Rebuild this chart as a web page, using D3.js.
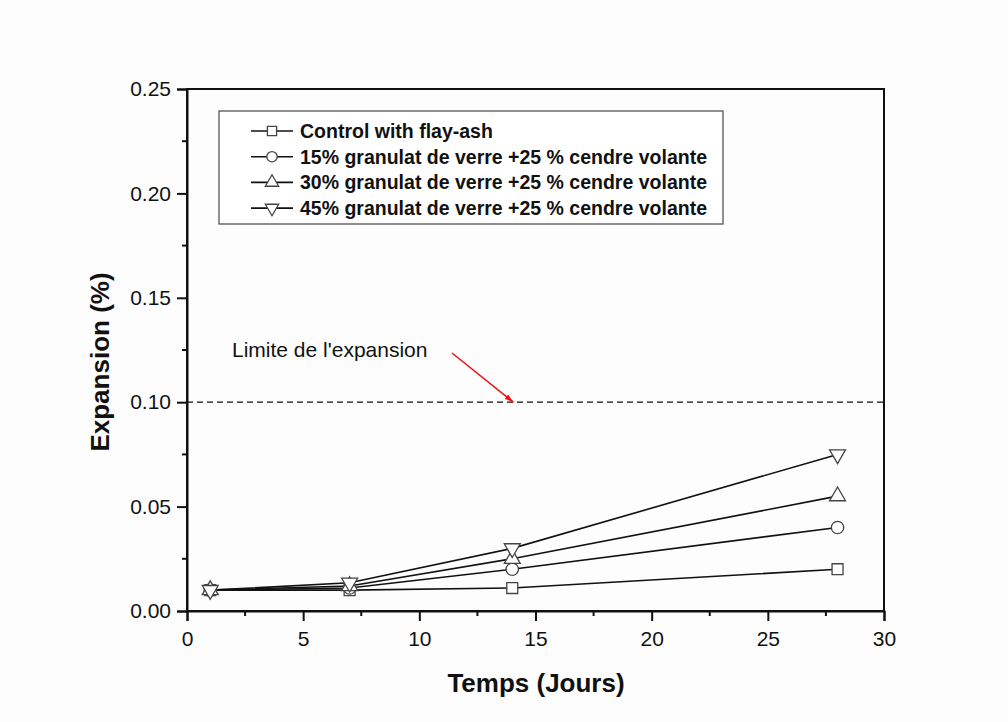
<!DOCTYPE html>
<html>
<head>
<meta charset="utf-8">
<script src="https://cdn.jsdelivr.net/npm/d3@7"></script>
<style>
  body { margin: 0; background: #fdfdfd; }
  svg { font-family: "Liberation Sans", Arial, sans-serif; }
</style>
</head>
<body>
<div id="chart"></div>
<script>
const days = [1, 7, 14, 28];
const seriesNames = [
    'Control with flay-ash',
    '15% granulat de verre +25 % cendre volante',
    '30% granulat de verre +25 % cendre volante',
    '45% granulat de verre +25 % cendre volante'
];
const controlValues = [0.010, 0.010, 0.011, 0.020];
const verre15Values = [0.010, 0.011, 0.020, 0.040];
const verre30Values = [0.010, 0.012, 0.025, 0.055];
const verre45Values = [0.010, 0.0135, 0.030, 0.075];
const symbols = ['square', 'circle', 'triangle', 'triangleDown'];
const xTicks = [0, 5, 10, 15, 20, 25, 30];
const yTicks = [0.00, 0.05, 0.10, 0.15, 0.20, 0.25];
const limitValue = 0.10;

const width = 1008;
const height = 722;
const margin = { top: 89, bottom: 111, left: 187, right: 124 };

const svg = d3.select('#chart')
    .append('svg')
    .attr('width', width)
    .attr('height', height);

const x = d3.scaleLinear()
    .domain([0, 30])
    .range([margin.left, width - margin.right]);

const y = d3.scaleLinear()
    .domain([0, 0.25])
    .range([height - margin.bottom, margin.top]);

// frame
svg.append('rect')
    .attr('x', margin.left)
    .attr('y', margin.top)
    .attr('width', x(30) - x(0))
    .attr('height', y(0) - y(0.25))
    .attr('fill', 'none')
    .attr('stroke', '#111')
    .attr('stroke-width', 2);

// axes
function styleAxis(g) {
    g.attr('font-size', '21px')
        .attr('font-family', '"Liberation Sans", Arial, sans-serif');
    g.select('.domain').attr('stroke-width', 2).attr('stroke', '#111');
    g.selectAll('.tick line').attr('stroke-width', 2).attr('stroke', '#111');
    g.selectAll('.tick text').attr('fill', '#111');
}

function xAxis(g) {
    g.attr('transform', `translate(0,${y(0)})`)
        .call(d3.axisBottom(x).tickValues(xTicks).tickFormat(d3.format('d')).tickSize(10).tickPadding(10));
    styleAxis(g);
}

function yAxis(g) {
    g.attr('transform', `translate(${x(0)},0)`)
        .call(d3.axisLeft(y).tickValues(yTicks).tickFormat(d3.format('.2f')).tickSize(10).tickPadding(6));
    styleAxis(g);
}

svg.append('g').call(xAxis);
svg.append('g').call(yAxis);

// minor ticks
const xMinor = d3.range(2.5, 30, 5);
const yMinor = d3.range(0.025, 0.25, 0.05);
svg.append('g').selectAll('line')
    .data(xMinor)
    .join('line')
    .attr('x1', d => x(d)).attr('x2', d => x(d))
    .attr('y1', y(0)).attr('y2', y(0) + 5)
    .attr('stroke', '#111').attr('stroke-width', 2);
svg.append('g').selectAll('line')
    .data(yMinor)
    .join('line')
    .attr('x1', x(0) - 5).attr('x2', x(0))
    .attr('y1', d => y(d)).attr('y2', d => y(d))
    .attr('stroke', '#111').attr('stroke-width', 2);

// axis titles
svg.append('text')
    .attr('x', 536)
    .attr('y', 692)
    .attr('text-anchor', 'middle')
    .attr('font-size', '26px')
    .attr('font-weight', 'bold')
    .attr('fill', '#111')
    .text('Temps (Jours)');

svg.append('text')
    .attr('transform', `translate(109,362) rotate(-90)`)
    .attr('text-anchor', 'middle')
    .attr('font-size', '26px')
    .attr('font-weight', 'bold')
    .attr('fill', '#111')
    .text('Expansion (%)');

// limit line
svg.append('line')
    .attr('x1', x(0)).attr('x2', x(30))
    .attr('y1', y(limitValue)).attr('y2', y(limitValue))
    .attr('stroke', '#111')
    .attr('stroke-width', 1.3)
    .attr('stroke-dasharray', '6,4');

svg.append('text')
    .attr('x', 232)
    .attr('y', 357)
    .attr('font-size', '21px')
    .attr('fill', '#111')
    .text("Limite de l'expansion");

svg.append('defs').append('marker')
    .attr('id', 'arrow')
    .attr('viewBox', '0 0 16 10')
    .attr('refX', 16).attr('refY', 5)
    .attr('markerWidth', 9).attr('markerHeight', 6)
    .attr('markerUnits', 'userSpaceOnUse')
    .attr('orient', 'auto')
    .append('path')
    .attr('d', 'M0,0 L16,5 L0,10 z')
    .attr('fill', '#ee1111');

svg.append('line')
    .attr('x1', 452).attr('y1', 353)
    .attr('x2', x(14.05)).attr('y2', y(limitValue))
    .attr('stroke', '#ee1111')
    .attr('stroke-width', 1.5)
    .attr('marker-end', 'url(#arrow)');

// series
const allSeries = [controlValues, verre15Values, verre30Values, verre45Values];
const line = d3.line()
    .x((d, i) => x(days[i]))
    .y(d => y(d));

const symbolTypes = {
    square: d3.symbolSquare,
    circle: d3.symbolCircle,
    triangle: d3.symbolTriangle,
    triangleDown: d3.symbolTriangle
};

function drawSymbol(g, type, cx, cy, scale) {
    const size = (type === 'circle' || type === 'square' ? 120 : 110) * scale;
    g.append('path')
        .attr('d', d3.symbol().type(symbolTypes[type]).size(size)())
        .attr('transform', `translate(${cx},${cy})` + (type === 'triangleDown' ? ' rotate(180)' : ''))
        .attr('fill', '#fff')
        .attr('stroke', '#444')
        .attr('stroke-width', 1.3);
}

allSeries.forEach((vals, k) => {
    svg.append('path')
        .datum(vals)
        .attr('d', line)
        .attr('fill', 'none')
        .attr('stroke', '#111')
        .attr('stroke-width', 1.6);
});

allSeries.forEach((vals, k) => {
    const g = svg.append('g');
    vals.forEach((v, i) => drawSymbol(g, symbols[k], x(days[i]), y(v), 1));
});

// legend
const legend = svg.append('g');
legend.append('rect')
    .attr('x', 219).attr('y', 111)
    .attr('width', 504).attr('height', 113)
    .attr('fill', '#fff')
    .attr('stroke', '#555')
    .attr('stroke-width', 1.3);

seriesNames.forEach((name, k) => {
    const cy = 131 + k * 25.7;
    legend.append('line')
        .attr('x1', 251).attr('x2', 293)
        .attr('y1', cy).attr('y2', cy)
        .attr('stroke', '#111').attr('stroke-width', 1.6);
    drawSymbol(legend, symbols[k], 272, cy, 0.7);
    legend.append('text')
        .attr('x', 300)
        .attr('y', cy + 7)
        .attr('font-size', '19.5px')
        .attr('font-weight', 'bold')
        .attr('fill', '#111')
        .text(name);
});
</script>
</body>
</html>
